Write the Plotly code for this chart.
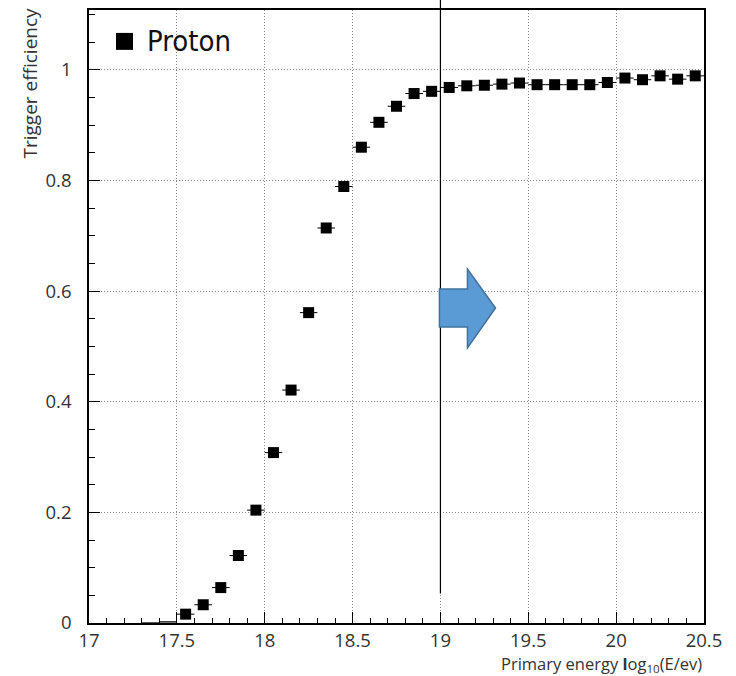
import plotly.graph_objects as go

# Data: bin centres (log10 E) and trigger efficiency
energy = [17.55, 17.65, 17.75, 17.85, 17.95, 18.05, 18.15, 18.25, 18.35, 18.45,
          18.55, 18.65, 18.75, 18.85, 18.95, 19.05, 19.15, 19.25, 19.35, 19.45,
          19.55, 19.65, 19.75, 19.85, 19.95, 20.05, 20.15, 20.25, 20.35, 20.45]
efficiency = [0.016, 0.033, 0.064, 0.122, 0.204, 0.308, 0.421, 0.561, 0.714, 0.789,
              0.860, 0.905, 0.934, 0.957, 0.961, 0.968, 0.971, 0.972, 0.974, 0.976,
              0.973, 0.973, 0.973, 0.973, 0.977, 0.985, 0.982, 0.989, 0.983, 0.989]
bin_half_width = 0.05

# empty bins at low energy (only the horizontal bin bar is visible)
low_energy = [17.35, 17.45]
low_eff = [0.0, 0.002]

x_ticks = [17, 17.5, 18, 18.5, 19, 19.5, 20, 20.5]
x_tick_labels = ["17", "17.5", "18", "18.5", "19", "19.5", "20", "20.5"]
y_ticks = [0, 0.2, 0.4, 0.6, 0.8, 1.0]
y_tick_labels = ["0", "0.2", "0.4", "0.6", "0.8", "1"]

FONT = "Open Sans, Noto Sans, sans-serif"

fig = go.Figure()

fig.add_trace(go.Scatter(
    x=low_energy, y=low_eff, mode="markers",
    marker=dict(size=1, color="rgba(0,0,0,0)"),
    error_x=dict(type="constant", value=bin_half_width, color="#222", thickness=1.5, width=0),
    showlegend=False, cliponaxis=False,
))

fig.add_trace(go.Scatter(
    x=energy, y=efficiency, mode="markers", name="Proton",
    marker=dict(symbol="square", size=11, color="black"),
    error_x=dict(type="constant", value=bin_half_width, color="black", thickness=1, width=0),
    showlegend=False,
))

# vertical marker line at log10(E) = 19
fig.add_shape(type="line", xref="x domain", yref="paper",
              x0=(19 - 17) / 3.5, x1=(19 - 17) / 3.5, y0=0.048, y1=1.02,
              line=dict(color="black", width=1.2))

# blue block arrow (outline in pixel space converted to axis space)
def ax(px):
    return (px - 89) / 175.5 + 17

def ay(py):
    return (623 - py) / 555

pts = [(439, 288), (467, 288), (467, 268), (495, 307), (467, 347), (467, 326), (439, 326)]
path = "M " + " L ".join(f"{ax(px):.4f},{ay(py):.4f}" for px, py in pts) + " Z"
fig.add_shape(type="path", xref="x", yref="y", path=path,
              fillcolor="#5B9BD5", line=dict(color="#41719C", width=1.5), layer="above")

# legend box
fig.add_shape(type="rect", xref="paper", yref="paper",
              x0=(116 - 89) / 615, x1=(133 - 89) / 615,
              y0=(623 - 48) / 615, y1=(623 - 31) / 615,
              fillcolor="black", line=dict(width=0))
fig.add_annotation(xref="paper", yref="paper", x=(145 - 89) / 615, y=(623 - 39) / 615,
                   text="Proton", showarrow=False,
                   xanchor="left", yanchor="middle",
                   font=dict(family="Liberation Sans Narrow, DejaVu Sans Condensed, Roboto Condensed, Liberation Sans",
                             size=29, color="#111"))

axis_common = dict(
    showline=True, linecolor="black", linewidth=1.5, mirror=True,
    ticks="inside", tickcolor="black", tickwidth=1.2, ticklen=11,
    showgrid=True, gridcolor="#888", gridwidth=1, griddash="1px,2px",
    zeroline=False,
    tickfont=dict(family=FONT, size=18.5, color="#333"),
)

fig.update_xaxes(
    **axis_common, range=[17, 20.5], tickmode="array",
    tickvals=x_ticks, ticktext=x_tick_labels, ticklabelstandoff=0,
    minor=dict(dtick=0.1, tick0=17, ticks="inside", ticklen=5, tickcolor="black", showgrid=False),
)
fig.update_yaxes(
    **axis_common, range=[0, 1.108], tickmode="array",
    tickvals=y_ticks, ticktext=y_tick_labels, ticklabelstandoff=12,
    minor=dict(dtick=0.05, tick0=0, ticks="inside", ticklen=6, tickcolor="black", showgrid=False),
)

# axis titles
fig.add_annotation(xref="paper", yref="paper", x=1.0, y=-0.044,
                   text="Primary energy <b>l</b>og<sub>10</sub>(E/ev)", showarrow=False,
                   xanchor="right", yanchor="top",
                   font=dict(family=FONT, size=16.5, color="#333"))
fig.add_annotation(xref="paper", yref="paper", x=(30 - 89) / 615, y=(623 - 4) / 615,
                   text="Trigger efficiency", showarrow=False, textangle=-90,
                   xanchor="center", yanchor="top",
                   font=dict(family=FONT, size=19, color="#333"))

fig.update_layout(
    width=736, height=676,
    margin=dict(l=89, r=32, t=8, b=53),
    plot_bgcolor="white", paper_bgcolor="white",
    showlegend=False,
)

fig.write_html("out.html", config={"displayModeBar": False},
               post_script="document.body.style.margin='0';")
